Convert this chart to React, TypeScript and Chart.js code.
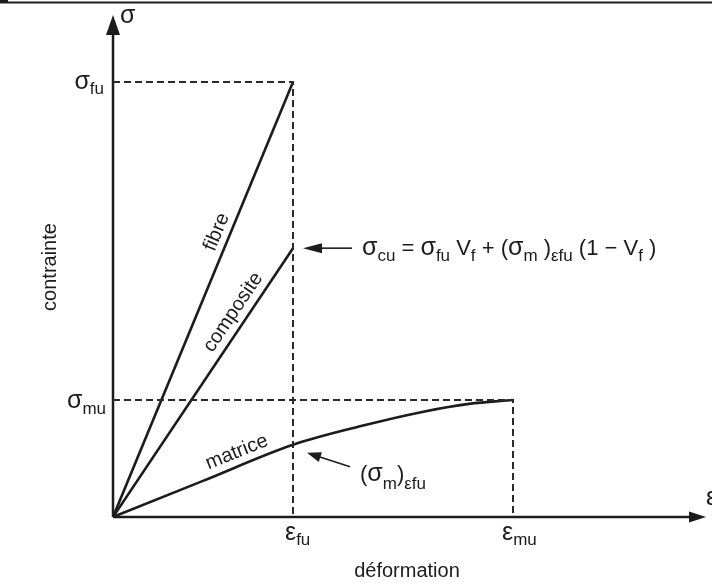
import { useEffect, useRef } from 'react';
import { Chart, registerables } from 'chart.js';

Chart.register(...registerables);

// ---- values (strain normalised to ε_mu, stress normalised to σ_fu) ----
const EPS_FU = 0.45;
const EPS_MU = 1.0;
const SIG_FU = 1.0;
const SIG_CU = 0.618;
const SIG_MU = 0.269;

const fibreX = [0, EPS_FU];
const fibreY = [0, SIG_FU];
const compositeX = [0, EPS_FU];
const compositeY = [0, SIG_CU];
const matriceX = [0, 0.225, 0.45, 0.62, 0.77, 0.89, 1.0];
const matriceY = [0, 0.083, 0.166, 0.209, 0.241, 0.26, 0.269];

const curveLabels = ['fibre', 'composite', 'matrice'];
const xAxisTitle = 'déformation';
const yAxisTitle = 'contrainte';
const X_MAX = 1.4825;
const Y_MAX = 1.154;

const INK = '#1c1c1c';
const FONT = "'Liberation Sans', Arial, sans-serif";
const MAIN = 22;
const GREEK = 25;
const SUB = 17;

type Part = [string, 'n' | 's' | 'g'];

const sizeOf = (k: string) => (k === 's' ? SUB : k === 'g' ? GREEK : MAIN);

function richWidth(ctx: CanvasRenderingContext2D, parts: Part[]) {
  let w = 0;
  for (const [t, k] of parts) {
    ctx.font = `${sizeOf(k)}px ${FONT}`;
    w += ctx.measureText(t).width;
  }
  return w;
}

function drawRich(ctx: CanvasRenderingContext2D, parts: Part[], x: number, y: number, align: 'left' | 'right' | 'center', subOff = 6) {
  const w = richWidth(ctx, parts);
  let cx = align === 'left' ? x : align === 'right' ? x - w : x - w / 2;
  ctx.textAlign = 'left';
  ctx.textBaseline = 'alphabetic';
  for (const [t, k] of parts) {
    ctx.font = `${sizeOf(k)}px ${FONT}`;
    ctx.fillText(t, cx, k === 's' ? y + subOff : y);
    cx += ctx.measureText(t).width;
  }
}

function arrow(ctx: CanvasRenderingContext2D, x1: number, y1: number, x2: number, y2: number, len: number, half: number, lw: number) {
  const a = Math.atan2(y2 - y1, x2 - x1);
  const bx = x2 - Math.cos(a) * len;
  const by = y2 - Math.sin(a) * len;
  ctx.lineWidth = lw;
  ctx.beginPath();
  ctx.moveTo(x1, y1);
  ctx.lineTo(bx + Math.cos(a) * 2, by + Math.sin(a) * 2);
  ctx.stroke();
  ctx.beginPath();
  ctx.moveTo(x2, y2);
  ctx.lineTo(bx - Math.sin(a) * half, by + Math.cos(a) * half);
  ctx.lineTo(bx + Math.sin(a) * half, by - Math.cos(a) * half);
  ctx.closePath();
  ctx.fill();
}

function labelAlong(ctx: CanvasRenderingContext2D, text: string, x0: number, y0: number, x1: number, y1: number, along: number, off: number) {
  const dx = x1 - x0, dy = y1 - y0;
  const L = Math.hypot(dx, dy);
  const ux = dx / L, uy = dy / L;
  const nx = uy, ny = -ux;
  const px = x0 + ux * along + nx * off;
  const py = y0 + uy * along + ny * off;
  ctx.save();
  ctx.translate(px, py);
  ctx.rotate(Math.atan2(dy, dx));
  ctx.font = `20px ${FONT}`;
  ctx.textAlign = 'center';
  ctx.textBaseline = 'middle';
  ctx.fillText(text, 0, 0);
  ctx.restore();
}

const axesPlugin = {
  id: 'axesPlugin',
  beforeDatasetsDraw(chart: any) {
    const { ctx, scales, chartArea } = chart;
    const ox = scales.x.getPixelForValue(0);
    const oy = scales.y.getPixelForValue(0);
    ctx.save();
    ctx.strokeStyle = INK;
    ctx.fillStyle = INK;
    ctx.lineWidth = 2;
    ctx.beginPath();
    ctx.moveTo(0, 2.5);
    ctx.lineTo(chart.width, 2.5);
    ctx.stroke();
    ctx.fillRect(0, 0, 8, 3);
    arrow(ctx, ox, oy, chartArea.right, oy, 17, 5.5, 2.5);
    arrow(ctx, ox, oy, ox, chartArea.top, 20, 7, 2.5);
    ctx.restore();
  },
  afterDatasetsDraw(chart: any) {
    const { ctx, scales } = chart;
    const X = (v: number) => scales.x.getPixelForValue(v);
    const Y = (v: number) => scales.y.getPixelForValue(v);
    const ox = X(0), oy = Y(0);
    ctx.save();
    ctx.fillStyle = INK;
    ctx.strokeStyle = INK;

    drawRich(ctx, [['σ', 'g']], ox + 7, 23, 'left');
    drawRich(ctx, [['ε', 'g']], chart.width - 6, oy - 12, 'left');

    drawRich(ctx, [['σ', 'g'], ['fu', 's']], ox - 9, Y(SIG_FU) + 7, 'right', 5);
    drawRich(ctx, [['σ', 'g'], ['mu', 's']], ox - 7, Y(SIG_MU) + 8, 'right', 6);
    drawRich(ctx, [['ε', 'g'], ['fu', 's']], X(EPS_FU) - 8, oy + 23, 'left', 5);
    drawRich(ctx, [['ε', 'g'], ['mu', 's']], X(EPS_MU) - 11, oy + 23, 'left', 5);

    ctx.font = `20px ${FONT}`;
    ctx.textAlign = 'center';
    ctx.textBaseline = 'alphabetic';
    ctx.fillText(xAxisTitle, ox + 294, oy + 60);
    ctx.save();
    ctx.translate(ox - 63, oy - 250);
    ctx.rotate(-Math.PI / 2);
    ctx.textBaseline = 'middle';
    ctx.fillText(yAxisTitle, 0, 0);
    ctx.restore();

    labelAlong(ctx, curveLabels[0], ox, oy, X(fibreX[1]), Y(fibreY[1]), 303, 13);
    labelAlong(ctx, curveLabels[1], ox, oy, X(compositeX[1]), Y(compositeY[1]), 237, 14);
    labelAlong(ctx, curveLabels[2], ox, oy, X(matriceX[2]), Y(matriceY[2]), 139, 14);

    const fx = X(EPS_FU), fy = Y(SIG_CU);
    arrow(ctx, fx + 59, fy, fx + 10, fy, 19, 5, 1.6);
    drawRich(ctx, [
      ['σ', 'g'], ['cu', 's'], [' = ', 'n'], ['σ', 'g'], ['fu', 's'], [' V', 'n'], ['f', 's'],
      [' + (', 'n'], ['σ', 'g'], ['m', 's'], [' )', 'n'], ['εfu', 's'], [' (1 − V', 'n'], ['f', 's'], [' )', 'n'],
    ], fx + 69, fy + 7, 'left', 6);

    const mx = X(EPS_FU), my = Y(matriceY[2]);
    arrow(ctx, mx + 57, my + 22, mx + 14, my + 8, 14, 5, 1.6);
    drawRich(ctx, [['(', 'n'], ['σ', 'g'], ['m', 's'], [')', 'n'], ['εfu', 's']], mx + 67, my + 36, 'left', 8);

    ctx.restore();
  },
};

const pts = (xs: number[], ys: number[]) => xs.map((x, i) => ({ x, y: ys[i] }));

export default function App() {
  const ref = useRef<HTMLCanvasElement>(null);
  useEffect(() => {
    const solid = { showLine: true, borderColor: INK, borderWidth: 2.6, pointRadius: 0, fill: false };
    const dashed = { showLine: true, borderColor: '#2a2a2a', borderWidth: 2, borderDash: [7, 4], pointRadius: 0, fill: false };
    const chart = new Chart(ref.current!, {
      type: 'scatter',
      data: {
        datasets: [
          { ...dashed, data: [{ x: 0, y: SIG_FU }, { x: EPS_FU, y: SIG_FU }, { x: EPS_FU, y: 0 }] },
          { ...dashed, data: [{ x: 0, y: SIG_MU }, { x: EPS_MU, y: SIG_MU }, { x: EPS_MU, y: 0 }] },
          { ...solid, label: curveLabels[0], data: pts(fibreX, fibreY) },
          { ...solid, label: curveLabels[1], data: pts(compositeX, compositeY) },
          { ...solid, label: curveLabels[2], data: pts(matriceX, matriceY), cubicInterpolationMode: 'monotone' },
        ] as any,
      },
      options: {
        responsive: false,
        animation: false,
        events: [],
        layout: { padding: { left: 113, right: 6, top: 15, bottom: 69 } },
        scales: {
          x: { type: 'linear', min: 0, max: X_MAX, display: false },
          y: { type: 'linear', min: 0, max: Y_MAX, display: false },
        },
        plugins: { legend: { display: false }, tooltip: { enabled: false } },
      },
      plugins: [axesPlugin],
    });
    return () => chart.destroy();
  }, []);
  return (
    <div style={{ position: 'fixed', left: 0, top: 0, width: 712, height: 586, background: '#fff' }}>
      <canvas ref={ref} width={712} height={586} style={{ display: 'block' }} />
    </div>
  );
}
